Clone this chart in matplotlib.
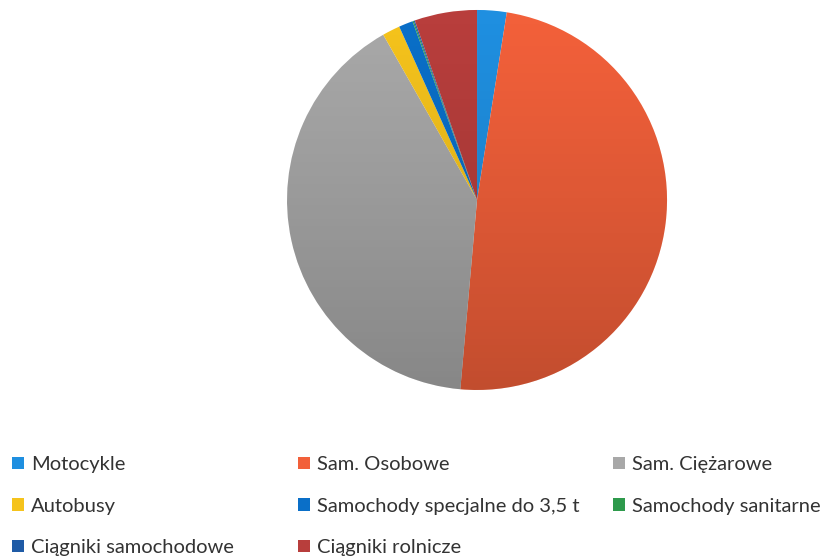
import numpy as np
import matplotlib.pyplot as plt
from matplotlib.patches import Circle, Patch

# udział poszczególnych rodzajów pojazdów (%)
kategorie = ["Motocykle", "Sam. Osobowe", "Sam. Ciężarowe", "Autobusy",
             "Samochody specjalne do 3,5 t", "Samochody sanitarne",
             "Ciągniki samochodowe", "Ciągniki rolnicze"]
udzial = [2.5, 48.8, 40.3, 1.5, 1.2, 0.1, 0.1, 5.3]
kolory = ["#1f8fe0", "#f2603a", "#a8a8a8", "#f5c31c",
          "#0a6fc8", "#2e9a4c", "#1f5ba6", "#b83e3c"]

plt.rcParams['font.family'] = ['Lato', 'DejaVu Sans']

fig = plt.figure(figsize=(8.4, 5.6), dpi=100)
ax = fig.add_axes([0.3417, 0.3036, 0.4524, 0.6786])

wedges, _ = ax.pie(udzial, colors=kolory, startangle=90, counterclock=False,
                   radius=1, wedgeprops=dict(linewidth=0))
ax.set_xlim(-1, 1)
ax.set_ylim(-1, 1)
ax.set_aspect('equal')
ax.axis('off')

# lekkie cieniowanie: jaśniej u góry, ciemniej u dołu
grad = np.linspace(0, 1, 256).reshape(-1, 1)
shade = np.zeros((256, 1, 4))
shade[..., 3] = 0.2 * grad ** 1.2
img = ax.imshow(shade, extent=(-1, 1, -1, 1), origin='upper', aspect='auto', zorder=3)
img.set_clip_path(Circle((0, 0), 1, transform=ax.transData))

# legenda w trzech kolumnach
uchwyty = [Patch(facecolor=c, edgecolor='none') for c in kolory]
kolumny = [(0, 3, 6), (1, 4, 7), (2, 5)]
pozycje_x = [0.005, 0.345, 0.72]
for idx, x0 in zip(kolumny, pozycje_x):
    leg = fig.legend([uchwyty[i] for i in idx], [kategorie[i] for i in idx],
                     loc='upper left', bbox_to_anchor=(x0, 0.2), frameon=False,
                     fontsize=14.5, handlelength=0.6, handleheight=0.6,
                     handletextpad=0.35, labelspacing=1.22, borderaxespad=0,
                     labelcolor='#333333')

fig.savefig("out.png", dpi=100)
